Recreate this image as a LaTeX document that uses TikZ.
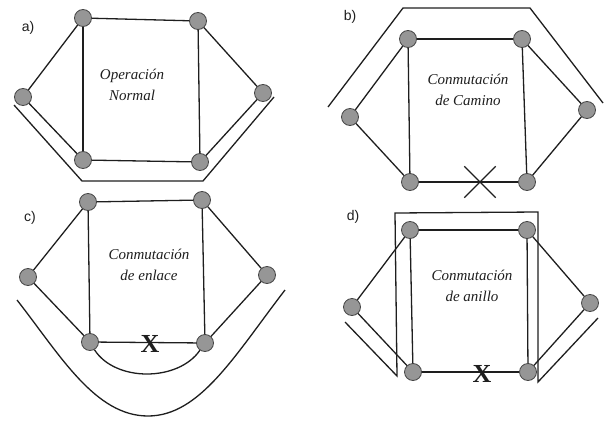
\documentclass[tikz,border=0pt]{standalone}
\usepackage{fontspec}
\setmainfont{Liberation Serif}
\setsansfont{Liberation Sans}
\usepackage{xcolor}
\usepackage{tikz}
\usetikzlibrary{shapes.misc}
\definecolor{nodegrey}{RGB}{150,150,150}
\definecolor{edgegrey}{RGB}{70,70,70}
\definecolor{inkblack}{RGB}{30,30,30}
\tikzset{
  router/.style={circle,draw=edgegrey,thick,fill=nodegrey,
    minimum size=17pt,inner sep=0pt},
  link/.style={line width=1.3pt,draw=inkblack},
  backup/.style={line width=1.3pt,draw=inkblack,line join=miter},
  panellabel/.style={font=\sffamily\fontsize{14}{14}\selectfont,text=inkblack},
  caption/.style={font=\itshape\fontsize{15}{21}\selectfont,align=center,text=inkblack},
  failmark/.style={font=\bfseries\fontsize{26}{26}\selectfont,inner sep=0pt,text=inkblack},
  failcross/.style={cross out,draw=inkblack,line width=1.3pt,minimum size=30pt}
}

\begin{document}
\begin{tikzpicture}[x=1pt,y=-1pt]
  \useasboundingbox (0,0) rectangle (615,420);

  % a) normal operation
  \node[panellabel] (la) at (28,28) {a)};
  \node[router] (a1) at (83,18) {};
  \node[router] (a2) at (198,21) {};
  \node[router] (a3) at (23,97) {};
  \node[router] (a4) at (263,93) {};
  \node[router] (a5) at (83,160) {};
  \node[router] (a6) at (200,162) {};
  \draw[link] (a1) -- (a2);
  \draw[link] (a1) -- (a3);
  \draw[link] (a2) -- (a4);
  \draw[link] (a1) -- (a5);
  \draw[link] (a2) -- (a6);
  \draw[link] (a3) -- (a5);
  \draw[link] (a5) -- (a6);
  \draw[link] (a6) -- (a4);
  \node[caption] (ta) at (132,85) {Operación\\Normal};
  \coordinate (pa1) at (14,105);
  \coordinate (pa2) at (82,181);
  \coordinate (pa3) at (203,181);
  \coordinate (pa4) at (274,97);
  \draw[backup] (pa1) -- (pa2) -- (pa3) -- (pa4);

  % b) path switching
  \node[panellabel] (lb) at (350,17) {b)};
  \node[router] (b1) at (408,39) {};
  \node[router] (b2) at (522,39) {};
  \node[router] (b3) at (350,117) {};
  \node[router] (b4) at (587,110) {};
  \node[router] (b5) at (410,182) {};
  \node[router] (b6) at (527,182) {};
  \draw[link] (b1) -- (b2);
  \draw[link] (b1) -- (b3);
  \draw[link] (b2) -- (b4);
  \draw[link] (b1) -- (b5);
  \draw[link] (b2) -- (b6);
  \draw[link] (b3) -- (b5);
  \draw[link] (b5) -- (b6);
  \draw[link] (b6) -- (b4);
  \node[failcross] (xb) at (480,182) {};
  \node[caption] (tb) at (468,90) {Conmutación\\de Camino};
  \coordinate (pb1) at (328,107);
  \coordinate (pb2) at (403,8);
  \coordinate (pb3) at (530,8);
  \coordinate (pb4) at (603,103);
  \draw[backup] (pb1) -- (pb2) -- (pb3) -- (pb4);

  % c) link switching
  \node[panellabel] (lc) at (30,218) {c)};
  \node[router] (c1) at (88,202) {};
  \node[router] (c2) at (202,200) {};
  \node[router] (c3) at (28,277) {};
  \node[router] (c4) at (267,275) {};
  \node[router] (c5) at (90,342) {};
  \node[router] (c6) at (205,343) {};
  \draw[link] (c1) -- (c2);
  \draw[link] (c1) -- (c3);
  \draw[link] (c2) -- (c4);
  \draw[link] (c1) -- (c5);
  \draw[link] (c2) -- (c6);
  \draw[link] (c3) -- (c5);
  \draw[link] (c5) -- (c6);
  \draw[link] (c6) -- (c4);
  \draw[link] (c5.-60) .. controls (115,382) and (178,382) .. (c6.-125);
  \node[failmark] (xc) at (150,344) {X};
  \node[caption] (tc) at (149,265) {Conmutación\\de enlace};
  \coordinate (pc1) at (17,300);
  \coordinate (pc2) at (148,416);
  \coordinate (pc3) at (285,290);
  \draw[backup] (pc1) .. controls (60,355) and (95,416) .. (pc2)
    .. controls (200,416) and (235,355) .. (pc3);

  % d) ring switching
  \node[panellabel] (ld) at (353,217) {d)};
  \node[router] (d1) at (410,230) {};
  \node[router] (d2) at (527,230) {};
  \node[router] (d3) at (352,307) {};
  \node[router] (d4) at (590,303) {};
  \node[router] (d5) at (413,372) {};
  \node[router] (d6) at (528,372) {};
  \draw[link] (d1) -- (d2);
  \draw[link] (d1) -- (d3);
  \draw[link] (d2) -- (d4);
  \draw[link] (d1) -- (d5);
  \draw[link] (d2) -- (d6);
  \draw[link] (d3) -- (d5);
  \draw[link] (d5) -- (d6);
  \draw[link] (d6) -- (d4);
  \node[failmark] (xd) at (482,374) {X};
  \node[caption] (td) at (472,286) {Conmutación\\de anillo};
  \coordinate (pd1) at (345,322);
  \coordinate (pd2) at (397,376);
  \coordinate (pd3) at (395,213);
  \coordinate (pd4) at (538,212);
  \coordinate (pd5) at (538,382);
  \coordinate (pd6) at (598,318);
  \draw[backup] (pd1) -- (pd2) -- (pd3) -- (pd4) -- (pd5) -- (pd6);
\end{tikzpicture}
\end{document}
